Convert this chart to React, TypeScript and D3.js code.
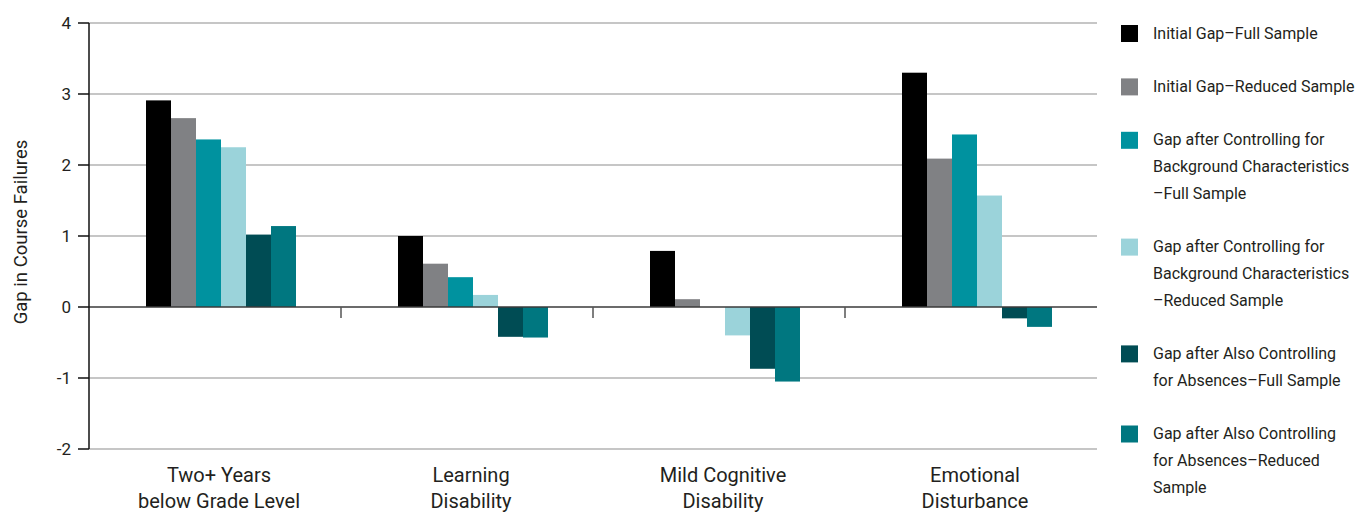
import React from "react";
import * as d3 from "d3";

const categories = [
  ["Two+ Years", "below Grade Level"],
  ["Learning", "Disability"],
  ["Mild Cognitive", "Disability"],
  ["Emotional", "Disturbance"],
];
const categoryKeys = ["two", "ld", "mcd", "ed"];

const seriesNames = [
  ["Initial Gap\u2013Full Sample"],
  ["Initial Gap\u2013Reduced Sample"],
  ["Gap after Controlling for", "Background Characteristics", "\u2013Full Sample"],
  ["Gap after Controlling for", "Background Characteristics", "\u2013Reduced Sample"],
  ["Gap after Also Controlling", "for Absences\u2013Full Sample"],
  ["Gap after Also Controlling", "for Absences\u2013Reduced", "Sample"],
];
const seriesColors = ["#000000", "#808184", "#00929f", "#9bd3da", "#004c54", "#007780"];

const initialFull = [2.91, 1.0, 0.79, 3.3];
const initialReduced = [2.66, 0.61, 0.11, 2.09];
const bgFull = [2.36, 0.42, 0.0, 2.43];
const bgReduced = [2.25, 0.17, -0.4, 1.57];
const absFull = [1.02, -0.42, -0.87, -0.16];
const absReduced = [1.14, -0.43, -1.05, -0.28];
const seriesValues = [initialFull, initialReduced, bgFull, bgReduced, absFull, absReduced];

const yTicks = [-2, -1, 0, 1, 2, 3, 4];

const FONT = "'Liberation Sans Narrow', 'Arial Narrow', Roboto, sans-serif";
const TEXT = "#231f20";

export default function App() {
  const width = 1366;
  const height = 513;
  const left = 89;
  const right = 1097;
  const y = d3.scaleLinear().domain([-2, 4]).range([449, 23]);
  const x = d3.scaleBand<string>().domain(categoryKeys).range([left, right]);
  const inner = d3
    .scaleBand<number>()
    .domain(d3.range(seriesValues.length))
    .range([57, 207]);

  const legendX = 1121;
  const legendTextX = 1153;
  const lineH = 26.7;
  let lineIdx = 0;
  const legendItems = seriesNames.map((lines, i) => {
    const start = lineIdx;
    lineIdx += lines.length + 1;
    return { lines, i, start };
  });

  return (
    <svg
      width={width}
      height={height}
      style={{ position: "absolute", left: 0, top: 0, display: "block", background: "#fff" }}
      fontFamily={FONT}
    >
      {yTicks
        .filter((t) => t !== 0)
        .map((t) => (
          <line key={t} x1={left} x2={right} y1={y(t)} y2={y(t)} stroke="#b3b3b3" strokeWidth={1.5} />
        ))}
      {categoryKeys.map((k, ci) =>
        seriesValues.map((vals, si) => {
          const v = vals[ci];
          const x0 = (x(k) as number) + (inner(si) as number);
          return (
            <rect
              key={k + si}
              x={x0}
              width={inner.bandwidth()}
              y={Math.min(y(v), y(0))}
              height={Math.abs(y(v) - y(0))}
              fill={seriesColors[si]}
            />
          );
        })
      )}
      <line x1={left} x2={right} y1={y(0)} y2={y(0)} stroke="#3a3a3a" strokeWidth={1.5} />
      {categoryKeys.slice(1).map((k) => (
        <line key={k} x1={x(k)} x2={x(k)} y1={y(0)} y2={y(0) + 11} stroke="#555" strokeWidth={1.5} />
      ))}
      <line x1={left} x2={left} y1={y(4)} y2={y(-2)} stroke="#111" strokeWidth={1.5} />
      {yTicks.map((t) => (
        <g key={t}>
          <line x1={78} x2={left} y1={y(t)} y2={y(t)} stroke="#111" strokeWidth={1.5} />
          <text x={71} y={y(t)} dy="0.35em" textAnchor="end" fontSize={17} fill={TEXT}>
            {t}
          </text>
        </g>
      ))}
      <text
        transform={`translate(27,232) rotate(-90)`}
        textAnchor="middle"
        fontSize={18.5}
        fill={TEXT}
      >
        Gap in Course Failures
      </text>
      {categoryKeys.map((k, ci) => (
        <text
          key={k}
          x={(x(k) as number) + 130}
          y={482}
          textAnchor="middle"
          fontSize={20}
          fill={TEXT}
        >
          {categories[ci].map((l, li) => (
            <tspan key={li} x={(x(k) as number) + 130} y={482 + li * 26}>
              {l}
            </tspan>
          ))}
        </text>
      ))}
      {legendItems.map(({ lines, i, start }) => {
        const cy = 33 + start * lineH;
        return (
          <g key={i}>
            <rect x={legendX} y={cy - 8} width={17} height={17} fill={seriesColors[i]} />
            {lines.map((l, li) => (
              <text key={li} x={legendTextX} y={cy + li * lineH} dy="0.35em" fontSize={16} fill={TEXT}>
                {l}
              </text>
            ))}
          </g>
        );
      })}
    </svg>
  );
}
